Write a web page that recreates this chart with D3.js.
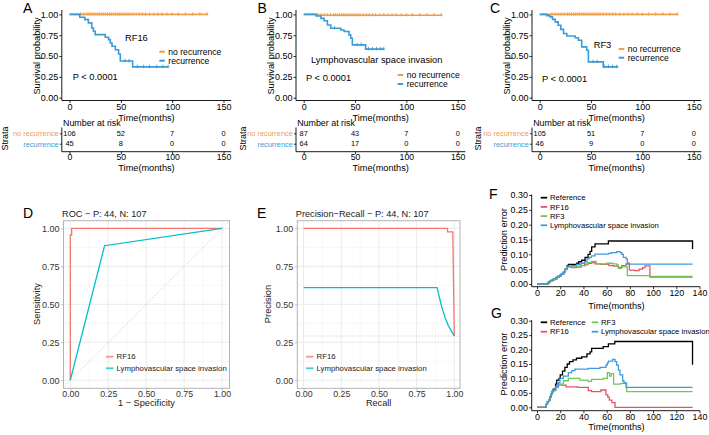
<!DOCTYPE html>
<html><head><meta charset="utf-8">
<script src="https://cdn.jsdelivr.net/npm/d3@7"></script>
<style>
html,body{margin:0;padding:0;background:#fff}
svg{display:block;font-family:"Liberation Sans",Arial,sans-serif}
</style></head>
<body><svg id="c" width="709" height="435"></svg>
<script>
// ---------------- DATA ----------------
const kmXTicks = [0, 50, 100, 150];
const kmYTicks = [0, 0.25, 0.5, 0.75, 1];
const strata = ["no recurrence", "recurrence"];
const riskTimes = [0, 50, 100, 150];

// Panel A (RF16)
const kmA_noRec = [[0,1],[134.5,1]];
const kmA_rec = [[0,1],[10,0.966],[15,0.937],[18.4,0.898],[21.7,0.837],[23.3,0.797],[25,0.757],[34.8,0.725],[38,0.697],[39.7,0.657],[41.4,0.617],[44.6,0.576],[47.8,0.524],[49.5,0.44],[61.5,0.37],[96,0.37]];
const censA_noRec = [11,14,17,19,21,23,25,27,29,31,33,35,37,39,41,43,45,47,49,51,53,55,57,59,62,65,68,71,74,78,82,86,90,95,100,106,113,120,127,134];
const censA_rec = [54,58,66,72,78,85,91,96];
const riskA_noRec = [106, 52, 7, 0];
const riskA_rec = [45, 8, 0, 0];

// Panel B (Lymphovascular space invasion)
const kmB_noRec = [[0,1],[13,0.99],[134.5,0.99]];
const kmB_rec = [[0,1],[12,0.98],[16.8,0.952],[19.9,0.924],[23.1,0.873],[26.4,0.833],[36.1,0.813],[39.3,0.794],[44.1,0.754],[45.8,0.714],[47.4,0.634],[60.3,0.583],[78,0.583]];
const censB_noRec = [14,17,20,23,26,29,31,33,35,37,39,41,43,45,47,49,51,53,55,58,61,64,67,70,74,78,82,86,90,95,100,106,113,120,127,134];
const censB_rec = [30,52,56,63,67,71,75,78];
const riskB_noRec = [87, 43, 7, 0];
const riskB_rec = [64, 17, 0, 0];

// Panel C (RF3)
const kmC_noRec = [[0,1],[134.5,1]];
const kmC_rec = [[0,1],[7,0.985],[10,0.97],[12.5,0.94],[15.1,0.91],[18,0.87],[20.5,0.82],[23.2,0.77],[26.4,0.74],[34.5,0.72],[37.7,0.69],[40.9,0.61],[45.8,0.57],[47.4,0.43],[61.9,0.37],[76.5,0.37]];
const censC_noRec = [12,15,18,21,24,27,29,31,33,35,37,39,41,43,45,47,49,51,53,55,57,59,62,65,68,71,74,78,82,86,90,95,100,106,113,120,127,134];
const censC_rec = [52,56,63,67,71,75];
const riskC_noRec = [105, 51, 7, 0];
const riskC_rec = [46, 9, 0, 0];

// Panel D (ROC)
const rocTicks = [0, 0.25, 0.5, 0.75, 1];
const rocRF16 = [[0,0],[0,0.955],[0.009,0.955],[0.009,1],[1,1]];
const rocLVSI = [[0,0],[0.226,0.886],[1,1]];
const rocSeries = ["RF16", "Lymphovascular space invasion"];

// Panel E (Precision-Recall)
const prRF16 = [[0,1],[0.955,1],[0.955,0.977],[0.99,0.977],[1,0.291]];
const prLVSI = [[0,0.61],[0.886,0.61],[0.895,0.57],[0.905,0.53],[0.915,0.49],[0.927,0.45],[0.94,0.41],[0.96,0.36],[0.98,0.325],[1,0.292]];
const prBaseline = 0.291;

// Panels F, G (prediction error)
const peXTicks = [0,20,40,60,80,100,120,140];
const peYTicks = [0,0.05,0.10,0.15,0.20,0.25,0.30];
const peNames = ["Reference","RF16","RF3","Lymphovascular space invasion"];

const peF_ref = [[0,0],[8,0],[9.5,0.005],[11,0.009],[13,0.013],[15,0.017],[17,0.022],[19,0.027],[21,0.033],[23,0.042],[24.5,0.05],[26,0.062],[27,0.066],[34.2,0.07],[36,0.075],[38.5,0.08],[41.4,0.09],[44,0.1],[45.7,0.11],[47.1,0.125],[50,0.135],[61.5,0.145],[134,0.145],[134,0.118]];
const peF_rf16 = [[0,0],[8,0],[9.5,0.005],[11,0.009],[13,0.013],[15,0.017],[17,0.022],[19,0.027],[21,0.033],[23,0.042],[24.5,0.05],[26,0.058],[30,0.055],[34,0.057],[38,0.062],[41,0.065],[44,0.07],[47,0.072],[50,0.068],[55,0.066],[62,0.062],[66,0.06],[70,0.056],[73,0.062],[76.7,0.068],[78.7,0.07],[79.6,0.047],[84,0.045],[88,0.05],[91,0.055],[93,0.061],[97.3,0.023],[134,0.023]];
const peF_rf3 = [[0,0],[8,0],[9.5,0.005],[11,0.009],[13,0.013],[15,0.017],[17,0.022],[19,0.027],[21,0.033],[23,0.042],[24.5,0.05],[26,0.058],[34,0.06],[38,0.062],[42,0.068],[44,0.073],[47,0.076],[51,0.068],[60,0.07],[65,0.068],[68.6,0.064],[70.1,0.053],[73,0.058],[77.8,0.028],[97.3,0.026],[134,0.026]];
const peF_lvsi = [[0,0],[8,0],[9,0.004],[10.5,0.009],[12,0.013],[14,0.018],[16,0.022],[18,0.027],[20,0.032],[22,0.04],[24,0.05],[26,0.06],[30,0.062],[34,0.066],[38,0.07],[41,0.075],[43,0.085],[45,0.09],[47,0.095],[50,0.101],[61.5,0.103],[64,0.106],[68.6,0.109],[71.5,0.106],[73,0.1],[74.4,0.09],[76.7,0.085],[77.8,0.067],[134,0.067]];

const peG_ref = [[0,0],[7,0],[8,0.01],[9,0.02],[10,0.025],[11,0.035],[12,0.045],[13,0.055],[14,0.063],[16,0.08],[17,0.094],[19,0.1],[20,0.112],[22,0.125],[24,0.138],[26,0.15],[28,0.158],[31,0.164],[34,0.17],[38.5,0.175],[43,0.185],[45.7,0.192],[47.1,0.204],[57,0.21],[61.5,0.22],[67,0.228],[134,0.228],[134,0.147]];
const peG_rf16 = [[0,0],[7,0],[8,0.01],[9,0.02],[10,0.025],[11,0.035],[12,0.045],[13,0.052],[14,0.058],[16,0.07],[17,0.077],[25,0.071],[35,0.069],[44.2,0.058],[47,0.054],[55,0.06],[59.4,0.043],[61,0.035],[62.3,0.025],[64.5,0.016],[67.2,0],[134,0]];
const peG_rf3 = [[0,0],[7,0],[8,0.01],[9,0.02],[10,0.025],[11,0.035],[12,0.045],[13,0.052],[14,0.058],[16,0.068],[18.4,0.08],[22.7,0.092],[27,0.1],[37,0.094],[44,0.09],[47,0.097],[57,0.1],[60.6,0.12],[62.5,0.108],[64,0.117],[66,0.08],[72,0.083],[77.3,0.054],[134,0.054]];
const peG_lvsi = [[0,0],[7,0],[8,0.01],[9,0.02],[10,0.025],[11,0.035],[12,0.045],[13,0.055],[14,0.06],[16,0.072],[18.4,0.085],[19.8,0.1],[22.7,0.108],[27,0.12],[29.9,0.127],[32.7,0.132],[44.2,0.135],[54.3,0.138],[59.4,0.146],[60.6,0.154],[61.5,0.16],[65.2,0.166],[67.2,0.158],[68.6,0.146],[70.1,0.129],[71.5,0.112],[73.8,0.092],[74.9,0.085],[76.7,0.069],[134,0.069]];

// ---------------- DRAWING ----------------
const svg = d3.select("#c");
svg.append("rect").attr("width",709).attr("height",435).attr("fill","#fff");
const ORANGE = "#EF9D4D", BLUE = "#3A9BD9";
const GGRED = "#F8766D", GGCYAN = "#00BFC4";
const PECOL = ["#000000","#E8536B","#73C656","#3C9CE0"];

function txt(g, x, y, s, o = {}) {
  const t = g.append("text").attr("x", x).attr("y", y).attr("dy", "0.35em")
    .attr("font-size", o.size || 9).attr("fill", o.fill || "#000")
    .attr("text-anchor", o.anchor || "start").text(s);
  if (o.rot) t.attr("transform", `rotate(${o.rot},${x},${y})`);
  return t;
}
function styleAxis(sel, size, color, tickColor) {
  sel.attr("font-size", size).attr("font-family", null);
  sel.selectAll("text").attr("fill", color);
  sel.selectAll(".tick line").attr("stroke", tickColor || color).attr("stroke-width", 0.8);
  sel.select(".domain").remove();
}
function letter(x, y, s) { txt(svg, x, y, s, {size: 14}); }

// ---------- Kaplan-Meier panels ----------
function kmPanel(c) {
  const g = svg.append("g");
  const x = d3.scaleLinear().domain([0,150]).range([c.x0, c.x0 + 154]);
  const y = d3.scaleLinear().domain([0,1]).range([97.7, 14.4]);
  const axX = c.x0 - 7.7, axY = 100.5;
  const ya = g.append("g").attr("transform", `translate(${axX},0)`)
    .call(d3.axisLeft(y).tickValues(kmYTicks).tickFormat(d3.format(".2f")).tickSize(2.5).tickPadding(1));
  styleAxis(ya, 9, "#000");
  const xa = g.append("g").attr("transform", `translate(0,${axY})`)
    .call(d3.axisBottom(x).tickValues(kmXTicks).tickSize(2.5).tickPadding(0.6));
  styleAxis(xa, 9, "#000");
  g.append("path").attr("d", `M${axX},10V${axY}H${x(157.5)}`).attr("fill","none").attr("stroke","#000").attr("stroke-width",0.9);
  txt(g, (axX + x(157.5)) / 2, 117.6, "Time(months)", {size: 9.2, anchor: "middle"});
  txt(g, c.x0 - 33, 56, "Survival probability", {size: 9.2, anchor: "middle", rot: -90});
  const line = d3.line().x(d => x(d[0])).y(d => y(d[1])).curve(d3.curveStepAfter);
  const sets = [[c.noRec, c.censNo, ORANGE], [c.rec, c.censRec, BLUE]];
  sets.forEach(([data, cens, col]) => {
    g.append("path").attr("d", line(data)).attr("fill","none").attr("stroke",col).attr("stroke-width",1.6);
    const step = t => { let v = data[0][1]; data.forEach(d => { if (d[0] <= t) v = d[1]; }); return v; };
    g.selectAll(null).data(cens).join("path")
      .attr("d", t => `M${x(t)},${y(step(t)) - 2.2}V${y(step(t)) + 1.2}M${x(t) - 1.3},${y(step(t))}H${x(t) + 1.3}`)
      .attr("stroke", col).attr("stroke-width", 0.9);
  });
  txt(g, c.label[0], c.label[1], c.labelText, {size: 9.3});
  txt(g, c.p[0], c.p[1], "P < 0.0001", {size: 9.3});
  [ORANGE, BLUE].forEach((col, i) => {
    const ly = c.leg[1] + i * c.leg[2];
    g.append("line").attr("x1", c.leg[0]).attr("x2", c.leg[0] + 5.5).attr("y1", ly).attr("y2", ly)
      .attr("stroke", col).attr("stroke-width", 2);
    txt(g, c.leg[0] + 9, ly, strata[i], {size: 8.6});
  });
  // risk table
  const ry = d3.scalePoint().domain(strata).range([133.3, 143.7]);
  txt(g, axX + 1.2, 123.2, "Number at risk", {size: 8.9});
  g.append("path").attr("d", `M${axX},127.5V151.7H${x(157.5)}`).attr("fill","none").attr("stroke","#000").attr("stroke-width",0.9);
  const rya = g.append("g").attr("transform", `translate(${axX},0)`)
    .call(d3.axisLeft(ry).tickSize(2).tickPadding(1.2));
  styleAxis(rya, 7.4, "#000");
  rya.selectAll("text").attr("fill", (d, i) => i === 0 ? ORANGE : BLUE);
  const rxa = g.append("g").attr("transform", `translate(0,151.7)`)
    .call(d3.axisBottom(x).tickValues(kmXTicks).tickSize(2.5).tickPadding(0));
  styleAxis(rxa, 8.7, "#000");
  [c.riskNo, c.riskRec].forEach((arr, i) => {
    g.selectAll(null).data(arr).join("text")
      .attr("x", (d, j) => x(riskTimes[j])).attr("y", ry(strata[i])).attr("dy", "0.35em")
      .attr("text-anchor", "middle").attr("font-size", 7.4).text(d => d);
  });
  txt(g, (axX + x(157.5)) / 2, 167.4, "Time(months)", {size: 9.2, anchor: "middle"});
  txt(g, c.strataX, 138.5, "Strata", {size: 9, anchor: "middle", rot: -90});
}

kmPanel({x0: 69.5, noRec: kmA_noRec, rec: kmA_rec, censNo: censA_noRec, censRec: censA_rec,
  riskNo: riskA_noRec, riskRec: riskA_rec, label: [125, 38], labelText: "RF16",
  p: [72.7, 76.7], leg: [159.3, 51.7, 9], strataX: 5});
kmPanel({x0: 303.7, noRec: kmB_noRec, rec: kmB_rec, censNo: censB_noRec, censRec: censB_rec,
  riskNo: riskB_noRec, riskRec: riskB_rec, label: [311, 60], labelText: "Lymphovascular space invasion",
  p: [306, 77.3], leg: [397.7, 75, 9], strataX: 242.7});
kmPanel({x0: 539.7, noRec: kmC_noRec, rec: kmC_rec, censNo: censC_noRec, censRec: censC_rec,
  riskNo: riskC_noRec, riskRec: riskC_rec, label: [593.7, 45], labelText: "RF3",
  p: [542, 78.3], leg: [618.7, 49, 8.7], strataX: 478});

letter(23, 8, "A"); letter(257.5, 8, "B"); letter(490, 8, "C");

// ---------- ggplot-style panels D, E ----------
function ggPanel(c) {
  const g = svg.append("g");
  const x = d3.scaleLinear().domain([0,1]).range([c.xr[0], c.xr[1]]);
  const y = d3.scaleLinear().domain([0,1]).range([380.2, 228.4]);
  const P = c.panel;
  const clipId = "clip" + c.id;
  g.append("clipPath").attr("id", clipId).append("rect")
    .attr("x", P[0]).attr("y", P[2]).attr("width", P[1]-P[0]).attr("height", P[3]-P[2]);
  const minor = [0.125, 0.375, 0.625, 0.875];
  minor.forEach(v => {
    g.append("line").attr("x1", x(v)).attr("x2", x(v)).attr("y1", P[2]).attr("y2", P[3]).attr("stroke","#EFEFEF").attr("stroke-width",0.5);
    g.append("line").attr("y1", y(v)).attr("y2", y(v)).attr("x1", P[0]).attr("x2", P[1]).attr("stroke","#EFEFEF").attr("stroke-width",0.5);
  });
  rocTicks.forEach(v => {
    g.append("line").attr("x1", x(v)).attr("x2", x(v)).attr("y1", P[2]).attr("y2", P[3]).attr("stroke","#E2E2E2").attr("stroke-width",0.7);
    g.append("line").attr("y1", y(v)).attr("y2", y(v)).attr("x1", P[0]).attr("x2", P[1]).attr("stroke","#E2E2E2").attr("stroke-width",0.7);
  });
  const gl = g.append("g").attr("clip-path", `url(#${clipId})`);
  c.drawRef(gl, x, y);
  const line = d3.line().x(d => x(d[0])).y(d => y(d[1]));
  [[c.s1, GGRED], [c.s2, GGCYAN]].forEach(([d, col]) => {
    gl.append("path").attr("d", line(d)).attr("fill","none").attr("stroke",col).attr("stroke-width",1.3);
  });
  g.append("rect").attr("x", P[0]).attr("y", P[2]).attr("width", P[1]-P[0]).attr("height", P[3]-P[2])
    .attr("fill","none").attr("stroke","#B3B3B3").attr("stroke-width",1);
  const ya = g.append("g").attr("transform", `translate(${P[0]},0)`)
    .call(d3.axisLeft(y).tickValues(rocTicks).tickFormat(d3.format(".2f")).tickSize(2.5).tickPadding(1.5));
  styleAxis(ya, 9, "#333", "#B3B3B3");
  const xa = g.append("g").attr("transform", `translate(0,${P[3]})`)
    .call(d3.axisBottom(x).tickValues(rocTicks).tickFormat(d3.format(".2f")).tickSize(2.5).tickPadding(0));
  styleAxis(xa, 8.8, "#333", "#B3B3B3");
  txt(g, P[0] - 1.5, 213.6, c.title, {size: 9.2, fill: "#1a1a1a"});
  txt(g, (P[0] + P[1]) / 2, 403.2, c.xlab, {size: 9.2, anchor: "middle", fill: "#1a1a1a"});
  txt(g, c.ylabX, 304, c.ylab, {size: 9.3, anchor: "middle", rot: -90, fill: "#1a1a1a"});
  [GGRED, GGCYAN].forEach((col, i) => {
    const ly = 356.7 + i * 11.6;
    g.append("line").attr("x1", c.leg).attr("x2", c.leg + 7.5).attr("y1", ly).attr("y2", ly)
      .attr("stroke", col).attr("stroke-width", 1.8).attr("opacity", 0.75);
    txt(g, c.leg + 10.5, ly, rocSeries[i], {size: 7.8, fill: "#1a1a1a"});
  });
}

ggPanel({id: "D", panel: [63.5, 229.5, 220.7, 388.3], xr: [70.3, 222.0], s1: rocRF16, s2: rocLVSI,
  title: "ROC − P: 44, N: 107", xlab: "1 − Specificity", ylab: "Sensitivity", ylabX: 37, leg: 106,
  drawRef: (g, x, y) => g.append("line").attr("x1", x(-0.1)).attr("y1", y(-0.1)).attr("x2", x(1.1)).attr("y2", y(1.1))
    .attr("stroke","#C4C4C4").attr("stroke-width",0.9).attr("stroke-dasharray","1.2,2")});
ggPanel({id: "E", panel: [297.3, 460, 220.7, 388.3], xr: [303.6, 454.3], s1: prRF16, s2: prLVSI,
  title: "Precision−Recall − P: 44, N: 107", xlab: "Recall", ylab: "Precision", ylabX: 267.5, leg: 306,
  drawRef: (g, x, y) => g.append("line").attr("x1", x(0)).attr("y1", y(prBaseline)).attr("x2", x(1.1)).attr("y2", y(prBaseline))
    .attr("stroke","#C4C4C4").attr("stroke-width",0.9).attr("stroke-dasharray","1.2,2")});

letter(23, 213, "D"); letter(257, 213, "E");

// ---------- Prediction error panels F, G ----------
function pePanel(c) {
  const g = svg.append("g");
  const x = d3.scaleLinear().domain([0,140]).range([537, 699.5]);
  const y = d3.scaleLinear().domain([0,0.3]).range([c.y0, c.y30]);
  const axX = 531.7;
  const ya = g.append("g").attr("transform", `translate(${axX},0)`)
    .call(d3.axisLeft(y).tickValues(peYTicks).tickFormat(d3.format(".2f")).tickSize(2.5).tickPadding(1.3));
  styleAxis(ya, 8.9, "#000");
  const xa = g.append("g").attr("transform", `translate(0,${c.ax})`)
    .call(d3.axisBottom(x).tickValues(peXTicks).tickSize(2.5).tickPadding(0.6));
  styleAxis(xa, 8.9, "#000");
  g.append("path").attr("d", `M${axX},${c.y30 - 0.5}V${c.ax}H${x(140) + 0.5}`).attr("fill","none").attr("stroke","#000").attr("stroke-width",0.9);
  const line = d3.line().x(d => x(d[0])).y(d => y(d[1])).curve(d3.curveStepAfter);
  c.series.forEach((d, i) => {
    g.append("path").attr("d", line(d)).attr("fill","none").attr("stroke",PECOL[i]).attr("stroke-width",1.3);
  });
  c.legend.forEach(([lx, ly], i) => {
    g.append("line").attr("x1", lx).attr("x2", lx + 6.5).attr("y1", ly).attr("y2", ly).attr("stroke", PECOL[i]).attr("stroke-width", 1.8);
    txt(g, lx + 9.3, ly, peNames[i], {size: 7.7});
  });
  txt(g, 616.5, c.xlabY, "Time(months)", {size: 9.2, anchor: "middle"});
  txt(g, 503.5, (c.y0 + c.y30) / 2, "Prediction error", {size: 9.2, anchor: "middle", rot: -90});
}

pePanel({y0: 284, y30: 195, ax: 286.7, xlabY: 305.5,
  series: [peF_ref, peF_rf16, peF_rf3, peF_lvsi],
  legend: [[540.7, 197.7], [540.7, 206.9], [540.7, 216.1], [540.7, 225.3]]});
pePanel({y0: 407.3, y30: 320.7, ax: 410.7, xlabY: 427.2,
  series: [peG_ref, peG_rf16, peG_rf3, peG_lvsi],
  legend: [[540.7, 322.3], [540.7, 331.7], [591.7, 322.3], [591.7, 331.7]]});

letter(489, 194.5, "F"); letter(491, 313.5, "G");
</script></body></html>
